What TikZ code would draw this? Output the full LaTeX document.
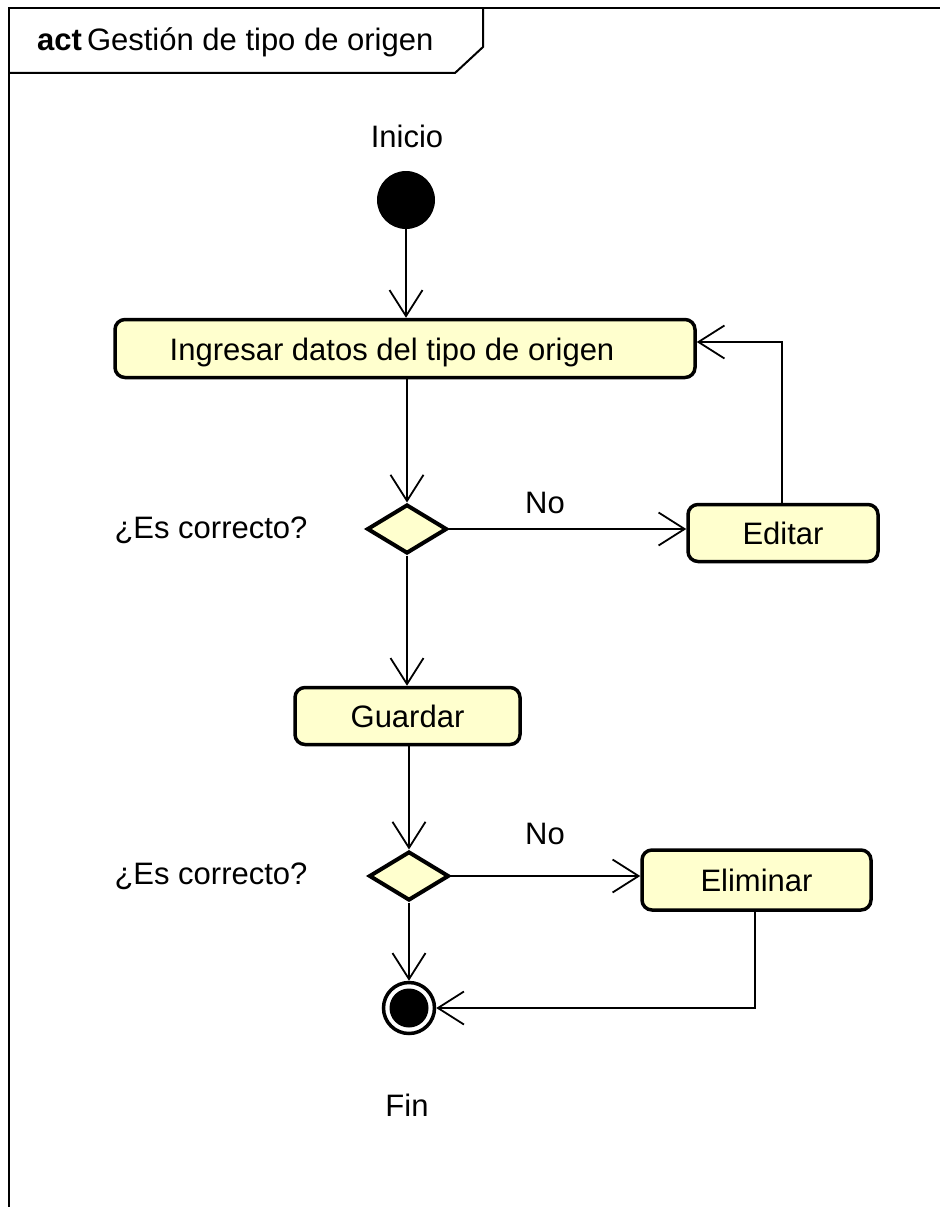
\documentclass[tikz,border=0pt]{standalone}
\usepackage{fontspec}
\setmainfont{Liberation Sans}
\usetikzlibrary{shapes.geometric,arrows.meta,calc}
\definecolor{actfill}{RGB}{255,255,206}
\begin{document}
\begin{tikzpicture}[x=1pt,y=-1pt,
  every node/.style={font=\fontsize{31}{36}\selectfont},
  action/.style={draw,rounded corners=10pt,line width=3.5pt,fill=actfill,inner sep=0pt},
  decision/.style={draw,diamond,line width=4pt,fill=actfill,inner sep=0pt,
    minimum width=80pt,minimum height=49pt},
  flow/.style={line width=1.8pt,-{Straight Barb[length=26pt,width=33pt]}},
  frameline/.style={line width=2pt},
  label/.style={inner sep=0pt}]
\useasboundingbox (0,0) rectangle (940,1207);

% diagram frame and its title tab
\draw[frameline] (9,1207) -- (9,8) -- (940,8);
\draw[frameline] (9,73) -- (455,73) -- (483,47) -- (483,8);
\node[label,anchor=west] (title) at (37,42)
  {\textbf{act}\hspace{5pt}Gestión de tipo de origen};

% nodes
\node[circle,fill=black,minimum size=58pt,inner sep=0pt] (start) at (406,200) {};
\node[label] (lstart) at (407,136) {Inicio};

\node[action,minimum width=580pt,minimum height=58pt] (ing) at (405,348.5) {};
\node[label] (ingtxt) at (392,352) {Ingresar datos del tipo de origen};

\node[decision] (d1) at (407,529) {};
\node[label] (q1) at (211,530) {¿Es correcto?};

\node[action,minimum width=190pt,minimum height=57pt] (edit) at (783,533) {Editar};
\node[label] (no1) at (545,503) {No};

\node[action,minimum width=225pt,minimum height=57pt] (guard) at (407.5,716) {Guardar};

\node[decision] (d2) at (409,876) {};
\node[label] (q2) at (211,876) {¿Es correcto?};

\node[action,minimum width=229pt,minimum height=60pt] (elim) at (756.5,880) {Eliminar};
\node[label] (no2) at (545,834) {No};

\node[circle,draw,line width=3.5pt,fill=white,minimum size=51pt,inner sep=0pt] (fin) at (409,1008) {};
\fill (fin.center) circle (19.5pt);
\node[label] (lfin) at (407,1105) {Fin};

% connectors
\coordinate (back) at (782,342);
\draw[flow] (start) -- (start |- ing.north);
\draw[flow] (d1 |- ing.south) -- (d1.north);
\draw[flow] (d1.east) -- (d1.east -| edit.west);
\draw[flow] (edit.north -| back) -- (back) -- (back -| ing.east);
\draw[flow] (d1.south) -- (d1.south |- guard.north);
\draw[flow] (d2 |- guard.south) -- (d2.north);
\draw[flow] (d2.east) -- (d2.east -| elim.west);
\draw[flow] (d2.south) -- (fin.north);
\draw[flow] (elim.south -| 755,0) -- (755,0 |- fin.east) -- (fin.east);
\end{tikzpicture}
\end{document}
